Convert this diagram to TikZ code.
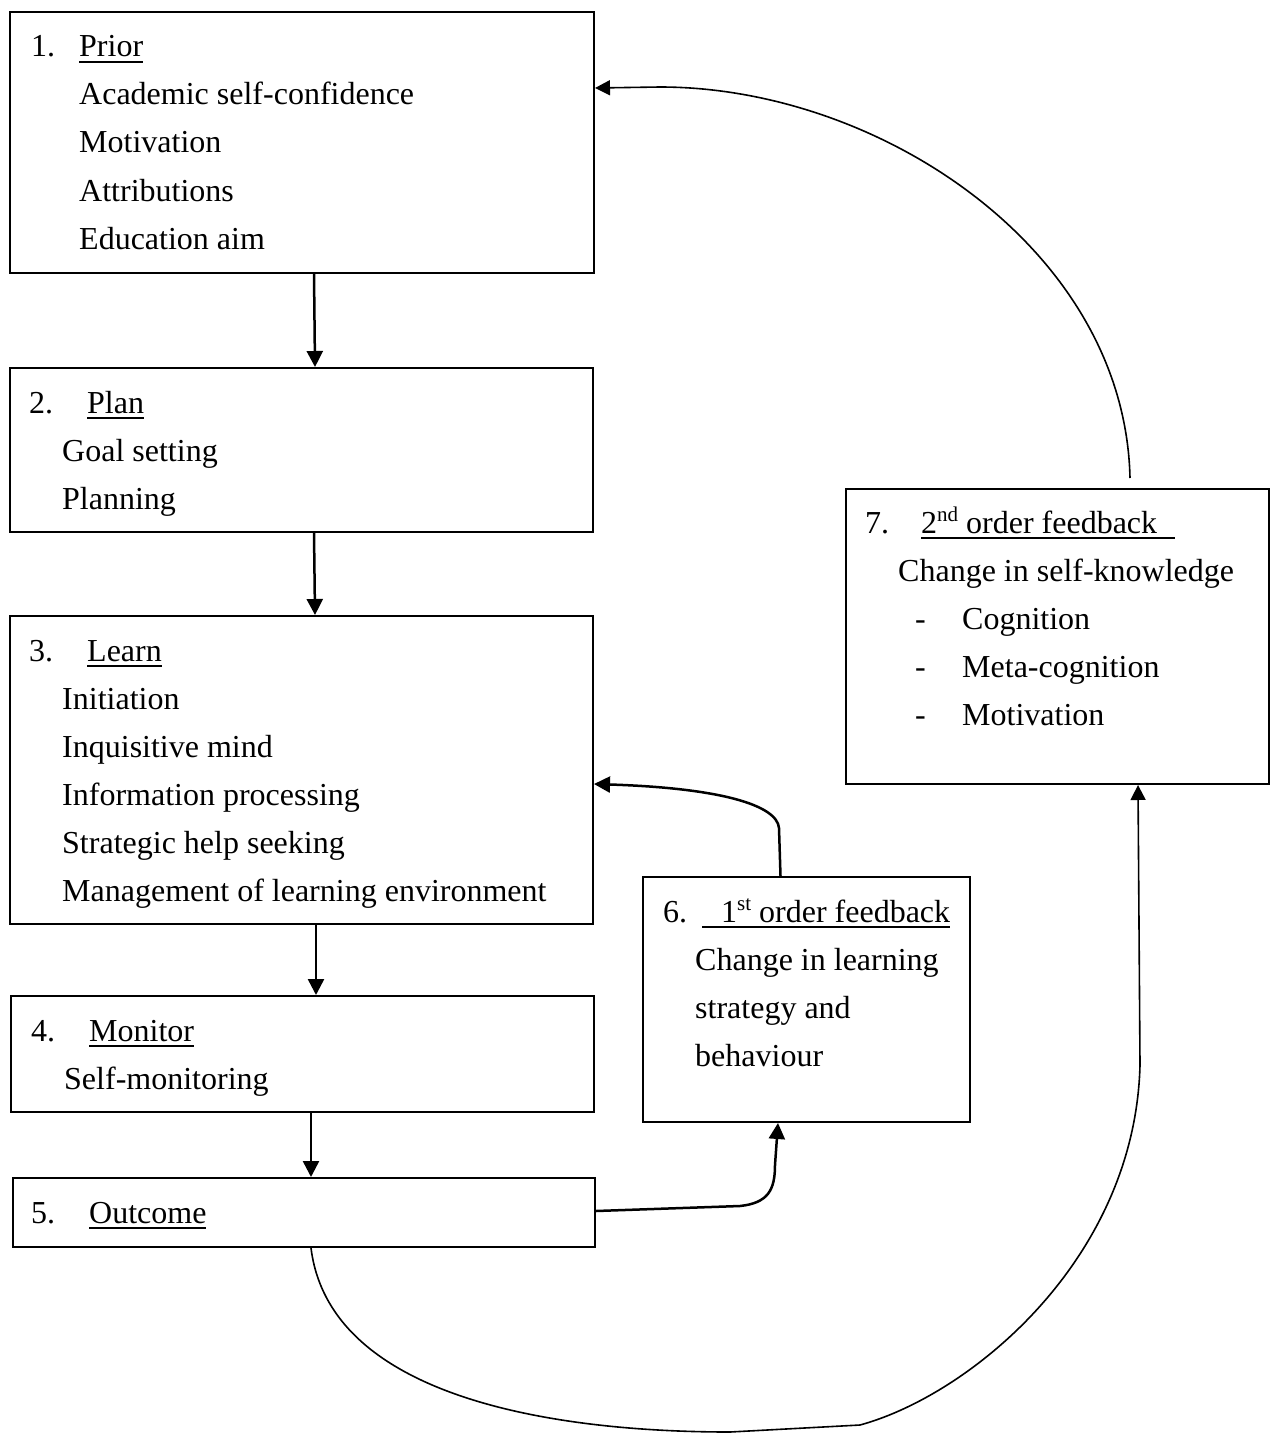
\documentclass[tikz,border=0pt]{standalone}
\usepackage{fontspec}
\setmainfont{Liberation Serif}
\usetikzlibrary{arrows.meta}
\newsavebox{\ulbox}
\newcommand{\myul}[1]{\sbox\ulbox{#1}\rlap{\rule[-6pt]{\wd\ulbox}{2pt}}\usebox\ulbox}
\tikzset{
  stagebox/.style={draw, line width=2pt, inner sep=0pt, anchor=north west},
  txt/.style={anchor=base west, inner sep=0pt, font=\fontsize{32}{48}\selectfont},
  arr/.style={line width=2.5pt, -{Triangle[length=16pt,width=16pt]}},
  thinarr/.style={line width=1.6pt, -{Triangle[length=15pt,width=15pt]}}
}
\begin{document}
\begin{tikzpicture}[x=1pt,y=-1pt]
\useasboundingbox (0,0) rectangle (1275,1434);
% boxes
\node[stagebox, minimum width=584pt, minimum height=261pt] (b1) at (9,11) {};
\node[stagebox, minimum width=583pt, minimum height=164pt] (b2) at (9,367) {};
\node[stagebox, minimum width=583pt, minimum height=308pt] (b3) at (9,615) {};
\node[stagebox, minimum width=583pt, minimum height=116pt] (b4) at (10,995) {};
\node[stagebox, minimum width=582pt, minimum height=69pt] (b5) at (12,1177) {};
\node[stagebox, minimum width=327pt, minimum height=245pt] (b6) at (642,876) {};
\node[stagebox, minimum width=423pt, minimum height=295pt] (b7) at (845,488) {};
% box 1
\node[txt] (t1n) at (31,57) {1.};
\node[txt] (t1h) at (79,57) {\myul{Prior}};
\node[txt] (t1a) at (79,105) {Academic self-confidence};
\node[txt] (t1b) at (79,153) {Motivation};
\node[txt] (t1c) at (79,201) {Attributions};
\node[txt] (t1d) at (79,249) {Education aim};
% box 2
\node[txt] (t2n) at (29,413) {2.};
\node[txt] (t2h) at (87,413) {\myul{Plan}};
\node[txt] (t2a) at (62,461) {Goal setting};
\node[txt] (t2b) at (62,509) {Planning};
% box 3
\node[txt] (t3n) at (29,661) {3.};
\node[txt] (t3h) at (87,661) {\myul{Learn}};
\node[txt] (t3a) at (62,709) {Initiation};
\node[txt] (t3b) at (62,757) {Inquisitive mind};
\node[txt] (t3c) at (62,805) {Information processing};
\node[txt] (t3d) at (62,853) {Strategic help seeking};
\node[txt] (t3e) at (62,901) {Management of learning environment};
% box 4
\node[txt] (t4n) at (31,1041) {4.};
\node[txt] (t4h) at (89,1041) {\myul{Monitor}};
\node[txt] (t4a) at (64,1089) {Self-monitoring};
% box 5
\node[txt] (t5n) at (31,1223) {5.};
\node[txt] (t5h) at (89,1223) {\myul{Outcome}};
% box 6
\node[txt] (t6n) at (663,922) {6.};
\node[txt] (t6h) at (702,922) {\myul{\hspace{19pt}1\raisebox{12pt}{\fontsize{21}{24}\selectfont st} order feedback}};
\node[txt] (t6a) at (695,970) {Change in learning};
\node[txt] (t6b) at (695,1018) {strategy and};
\node[txt] (t6c) at (695,1066) {behaviour};
% box 7
\node[txt] (t7n) at (865,533) {7.};
\node[txt] (t7h) at (921,533) {\myul{2\raisebox{12pt}{\fontsize{21}{24}\selectfont nd} order feedback\hspace{18pt}}};
\node[txt] (t7a) at (898,581) {Change in self-knowledge};
\node[txt] (t7d1) at (915,629) {-};
\node[txt] (t7a1) at (962,629) {Cognition};
\node[txt] (t7d2) at (915,677) {-};
\node[txt] (t7a2) at (962,677) {Meta-cognition};
\node[txt] (t7d3) at (915,725) {-};
\node[txt] (t7a3) at (962,725) {Motivation};
% straight arrows
\draw[arr] ([xshift=12pt]b1.south) -- ([xshift=13.5pt]b2.north);
\draw[arr] ([xshift=12.5pt]b2.south) -- ([xshift=13.5pt]b3.north);
\draw[arr] ([xshift=14.5pt]b3.south) -- ([xshift=13.5pt]b4.north);
\draw[arr] ([xshift=8.5pt]b4.south) -- ([xshift=7pt]b5.north);
% 5 -> 6
\draw[arr] ([yshift=1.5pt]b5.east) -- (740,1206) .. controls (768,1203) and (775,1190) .. (775,1165) -- ([xshift=-28.5pt]b6.south);
% 6 -> 3
\draw[arr] ([xshift=-26pt]b6.north) -- (779,828) .. controls (777,805) and (720,788) .. ([yshift=-14pt]b3.east);
% 7 -> 1
\coordinate (c7top) at (1130,478);
\draw[thinarr] (c7top) .. controls (1125,250) and (880,87) .. (660,87) -- ([yshift=54.5pt]b1.east);
% 5 -> 7
\draw[thinarr] ([xshift=7pt]b5.south) .. controls (330,1400) and (560,1432) .. (730,1432) -- (860,1425) .. controls (970,1395) and (1135,1260) .. (1140,1065) -- ([xshift=80.5pt]b7.south);
\end{tikzpicture}
\end{document}
